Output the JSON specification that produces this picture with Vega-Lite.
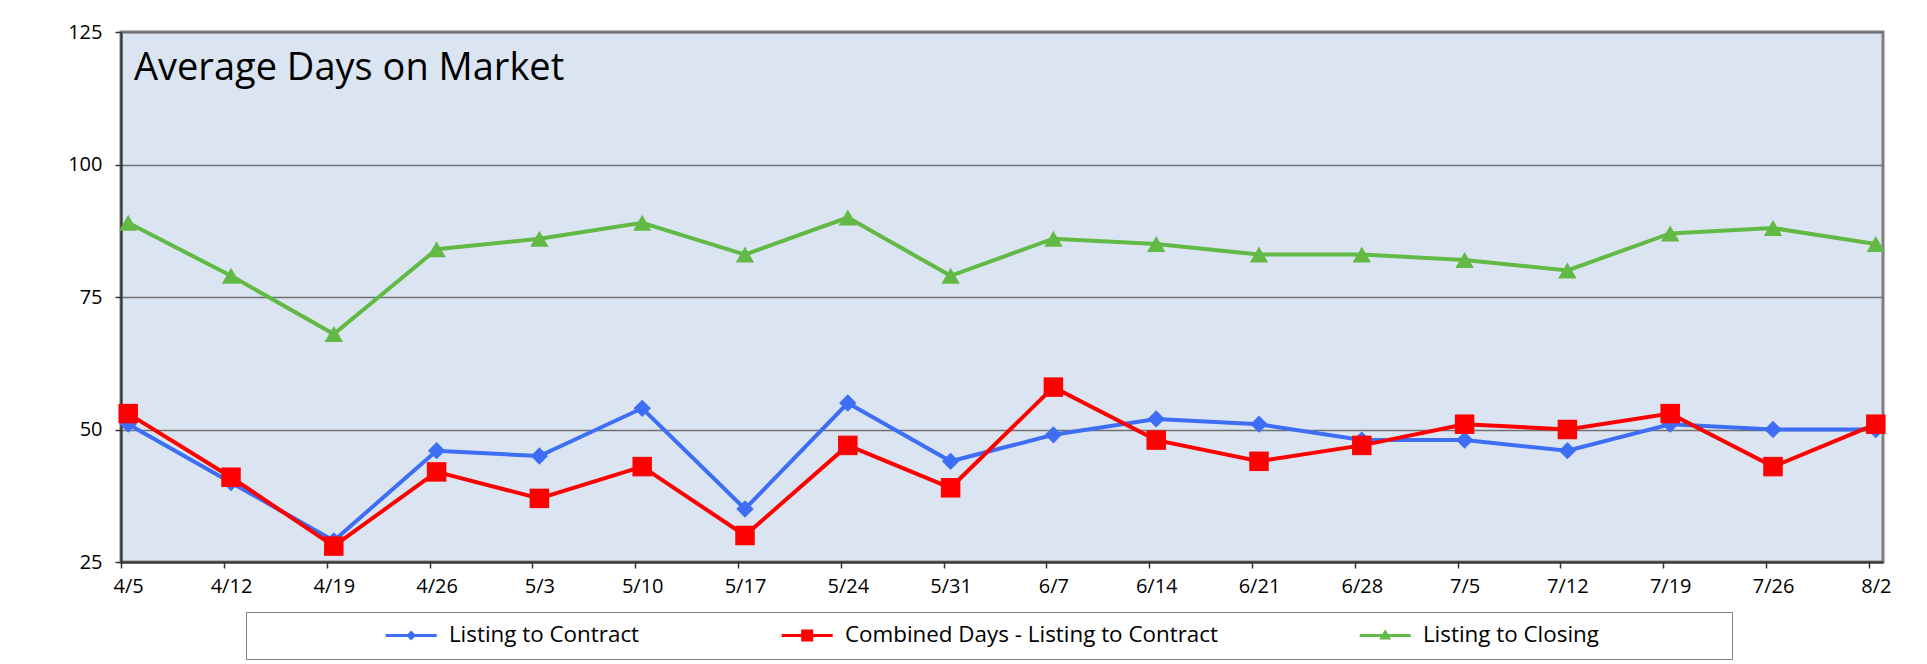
{
  "$schema": "https://vega.github.io/schema/vega-lite/v6.json",
  "width": 1762,
  "height": 530,
  "autosize": {"type": "none"},
  "padding": {"left": 121, "top": 32, "right": 44, "bottom": 102},
  "background": "white",
  "title": {
    "text": "Average Days on Market",
    "anchor": "start",
    "frame": "group",
    "orient": "top",
    "offset": 0,
    "baseline": "alphabetic",
    "dx": 13,
    "dy": 96,
    "font": "Open Sans",
    "fontSize": 38,
    "fontWeight": "normal",
    "color": "black"
  },
  "data": {
    "values": [
      {"date": "4/5", "series": "Listing to Contract", "days": 51},
      {"date": "4/12", "series": "Listing to Contract", "days": 40},
      {"date": "4/19", "series": "Listing to Contract", "days": 29},
      {"date": "4/26", "series": "Listing to Contract", "days": 46},
      {"date": "5/3", "series": "Listing to Contract", "days": 45},
      {"date": "5/10", "series": "Listing to Contract", "days": 54},
      {"date": "5/17", "series": "Listing to Contract", "days": 35},
      {"date": "5/24", "series": "Listing to Contract", "days": 55},
      {"date": "5/31", "series": "Listing to Contract", "days": 44},
      {"date": "6/7", "series": "Listing to Contract", "days": 49},
      {"date": "6/14", "series": "Listing to Contract", "days": 52},
      {"date": "6/21", "series": "Listing to Contract", "days": 51},
      {"date": "6/28", "series": "Listing to Contract", "days": 48},
      {"date": "7/5", "series": "Listing to Contract", "days": 48},
      {"date": "7/12", "series": "Listing to Contract", "days": 46},
      {"date": "7/19", "series": "Listing to Contract", "days": 51},
      {"date": "7/26", "series": "Listing to Contract", "days": 50},
      {"date": "8/2", "series": "Listing to Contract", "days": 50},
      {"date": "4/5", "series": "Combined Days - Listing to Contract", "days": 53},
      {"date": "4/12", "series": "Combined Days - Listing to Contract", "days": 41},
      {"date": "4/19", "series": "Combined Days - Listing to Contract", "days": 28},
      {"date": "4/26", "series": "Combined Days - Listing to Contract", "days": 42},
      {"date": "5/3", "series": "Combined Days - Listing to Contract", "days": 37},
      {"date": "5/10", "series": "Combined Days - Listing to Contract", "days": 43},
      {"date": "5/17", "series": "Combined Days - Listing to Contract", "days": 30},
      {"date": "5/24", "series": "Combined Days - Listing to Contract", "days": 47},
      {"date": "5/31", "series": "Combined Days - Listing to Contract", "days": 39},
      {"date": "6/7", "series": "Combined Days - Listing to Contract", "days": 58},
      {"date": "6/14", "series": "Combined Days - Listing to Contract", "days": 48},
      {"date": "6/21", "series": "Combined Days - Listing to Contract", "days": 44},
      {"date": "6/28", "series": "Combined Days - Listing to Contract", "days": 47},
      {"date": "7/5", "series": "Combined Days - Listing to Contract", "days": 51},
      {"date": "7/12", "series": "Combined Days - Listing to Contract", "days": 50},
      {"date": "7/19", "series": "Combined Days - Listing to Contract", "days": 53},
      {"date": "7/26", "series": "Combined Days - Listing to Contract", "days": 43},
      {"date": "8/2", "series": "Combined Days - Listing to Contract", "days": 51},
      {"date": "4/5", "series": "Listing to Closing", "days": 89},
      {"date": "4/12", "series": "Listing to Closing", "days": 79},
      {"date": "4/19", "series": "Listing to Closing", "days": 68},
      {"date": "4/26", "series": "Listing to Closing", "days": 84},
      {"date": "5/3", "series": "Listing to Closing", "days": 86},
      {"date": "5/10", "series": "Listing to Closing", "days": 89},
      {"date": "5/17", "series": "Listing to Closing", "days": 83},
      {"date": "5/24", "series": "Listing to Closing", "days": 90},
      {"date": "5/31", "series": "Listing to Closing", "days": 79},
      {"date": "6/7", "series": "Listing to Closing", "days": 86},
      {"date": "6/14", "series": "Listing to Closing", "days": 85},
      {"date": "6/21", "series": "Listing to Closing", "days": 83},
      {"date": "6/28", "series": "Listing to Closing", "days": 83},
      {"date": "7/5", "series": "Listing to Closing", "days": 82},
      {"date": "7/12", "series": "Listing to Closing", "days": 80},
      {"date": "7/19", "series": "Listing to Closing", "days": 87},
      {"date": "7/26", "series": "Listing to Closing", "days": 88},
      {"date": "8/2", "series": "Listing to Closing", "days": 85}
    ]
  },
  "encoding": {
    "x": {
      "field": "date",
      "type": "ordinal",
      "sort": null,
      "scale": {"type": "point", "padding": 0.07},
      "axis": {
        "title": null,
        "labelAngle": 0,
        "labelFont": "Open Sans",
        "labelFontSize": 20,
        "labelColor": "black",
        "labelPadding": 8,
        "labelOverlap": false,
        "tickSize": 6,
        "tickOffset": -7,
        "labelOffset": 7,
        "tickColor": "#333333",
        "tickWidth": 1.5,
        "domainColor": "#333333",
        "domainWidth": 2,
        "grid": false
      }
    },
    "y": {
      "field": "days",
      "type": "quantitative",
      "scale": {"domain": [25, 125], "nice": false, "zero": false},
      "axis": {
        "title": null,
        "values": [25, 50, 75, 100, 125],
        "labelFont": "Open Sans",
        "labelFontSize": 20,
        "labelColor": "black",
        "labelPadding": 13,
        "tickSize": 6,
        "tickColor": "#333333",
        "tickWidth": 1.5,
        "domainColor": "#333333",
        "domainWidth": 2,
        "grid": true,
        "gridColor": "#707070",
        "gridWidth": 1.5
      }
    },
    "color": {
      "field": "series",
      "type": "nominal",
      "scale": {
        "domain": ["Listing to Contract", "Combined Days - Listing to Contract", "Listing to Closing"],
        "range": ["#3d6ef5", "#ff0000", "#62b946"]
      },
      "legend": {
        "orient": "none",
        "legendX": 125,
        "legendY": 580,
        "direction": "horizontal",
        "columnPadding": 141,
        "labelOffset": 26.5,
        "labelLimit": 0,
        "labelFont": "Open Sans",
        "labelFontSize": 22.4,
        "labelColor": "black",
        "padding": 12,
        "strokeColor": "#7f7f7f",
        "fillColor": "white",
        "symbolSize": 400,
        "symbolOpacity": 1,
        "symbolStrokeWidth": 0,
        "title": "\u00a0",
        "titleOrient": "left",
        "titleFontSize": 1,
        "titlePadding": 142,
        "encode": {
          "symbols": {
            "update": {
              "shape": {"signal": "datum.value === 'Listing to Contract' ? 'M-2.55,-0.15H2.55V0.15H-2.55ZM0,-0.5L0.5,0L0,0.5L-0.5,0Z' : datum.value === 'Listing to Closing' ? 'M-2.55,-0.15H2.55V0.15H-2.55ZM0,-0.62L0.6,0.42L-0.6,0.42ZM33.39,-0.005h0.01v0.01h-0.01Z' : 'M-2.55,-0.15H2.55V0.15H-2.55ZM-0.6,-0.6H0.6V0.6H-0.6Z'"},
              "size": {"value": 400}
            }
          }
        }
      }
    }
  },
  "layer": [
    {"mark": {"type": "line", "strokeWidth": 4}},
    {
      "transform": [{"filter": "datum.series === 'Listing to Contract'"}],
      "mark": {"type": "point", "shape": "diamond", "size": 300, "filled": true, "opacity": 1, "strokeWidth": 0}
    },
    {
      "transform": [{"filter": "datum.series === 'Combined Days - Listing to Contract'"}],
      "mark": {"type": "point", "shape": "square", "size": 380, "filled": true, "opacity": 1, "strokeWidth": 0}
    },
    {
      "transform": [{"filter": "datum.series === 'Listing to Closing'"}],
      "mark": {"type": "point", "shape": "triangle-up", "size": 340, "filled": true, "opacity": 1, "strokeWidth": 0}
    }
  ],
  "config": {
    "view": {"fill": "#dbe5f1", "stroke": "#7f7f7f", "strokeWidth": 3}
  }
}
